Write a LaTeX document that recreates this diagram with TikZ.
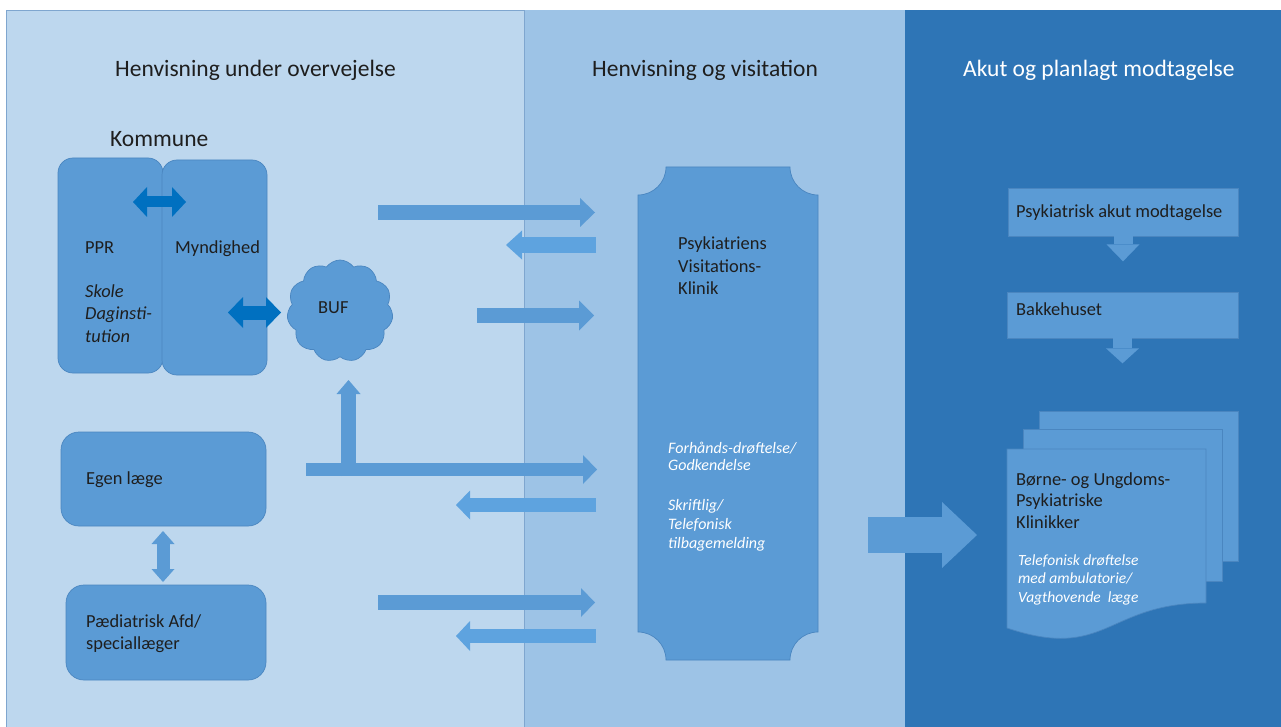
\documentclass[tikz,border=0pt]{standalone}
\usepackage{fontspec}
\setmainfont{Carlito}
\usetikzlibrary{arrows.meta,shapes.symbols}
\definecolor{leftbg}{HTML}{BDD7EE}
\definecolor{midbg}{HTML}{9DC3E6}
\definecolor{rightbg}{HTML}{2E75B6}
\definecolor{boxblue}{HTML}{5B9BD5}
\definecolor{darkarrow}{HTML}{0070C0}
\definecolor{retarrow}{HTML}{5EA3DF}
\definecolor{edgeblue}{HTML}{4A86C0}
\definecolor{sepline}{HTML}{7FA6CF}
\definecolor{txt}{HTML}{1E1E1E}
\tikzset{
  title/.style={anchor=base west, inner sep=0pt, font=\fontsize{23.5}{28}\selectfont, text=txt},
  lbl/.style={anchor=base west, inner sep=0pt, align=left, font=\fontsize{18.4}{22.5}\selectfont, text=txt},
  itl/.style={anchor=base west, inner sep=0pt, align=left, font=\fontsize{16}{19}\selectfont\itshape, text=white},
  rbox/.style={draw=edgeblue, line width=0.7pt, fill=boxblue, rounded corners=15pt, inner sep=0pt},
  sbox/.style={draw=edgeblue, line width=0.7pt, fill=boxblue, inner sep=0pt},
  barrow/.style n args={4}{draw=#4, line width=#1pt, -{Triangle[length=#2pt, width=#3pt, line width=0pt]}},
  dbarrow/.style n args={4}{draw=#4, line width=#1pt, {Triangle[length=#2pt, width=#3pt, line width=0pt]}-{Triangle[length=#2pt, width=#3pt, line width=0pt]}}
}
\begin{document}
\begin{tikzpicture}[x=1pt,y=-1pt]
\useasboundingbox (0,0) rectangle (1281,727);
\fill[white] (0,0) rectangle (1281,727);
% panels
\fill[leftbg] (6,10) rectangle (524,727);
\fill[midbg] (524,10) rectangle (905,727);
\fill[rightbg] (905,10) rectangle (1281,727);
\draw[sepline, line width=0.8pt] (6,727) -- (6,10) -- (524,10) -- (524,727);

% titles
\node[title] (t1) at (115,77) {Henvisning under overvejelse};
\node[title] (t2) at (592,77) {Henvisning og visitation};
\node[title, text=white] (t3) at (963,77) {Akut og planlagt modtagelse};
\node[title] (kom) at (110,147) {Kommune};

% Kommune boxes
\node[rbox, minimum width=105pt, minimum height=215pt] (ppr) at (110.5,265.5) {};
\node[rbox, minimum width=105pt, minimum height=215pt] (mynd) at (214.5,267.5) {};
\node[lbl] (pprt) at (85,253) {PPR};
\node[lbl] (myndt) at (175,253) {Myndighed};
\node[lbl, font=\fontsize{18.4}{22.5}\selectfont\itshape] (skole) at (85,342) {Skole\\Daginsti-\\tution};

% BUF cloud
\node[cloud, cloud puffs=11, cloud puff arc=110, aspect=1, fill=boxblue, draw=edgeblue, line width=0.7pt, minimum width=106pt, minimum height=102pt, inner sep=0pt] (buf) at (340,311) {};
\node[lbl] (buft) at (318,313) {BUF};

% Egen laege / Paediatrisk
\node[rbox, minimum width=205pt, minimum height=94pt, rounded corners=18pt] (egen) at (163.5,479) {};
\node[rbox, minimum width=200pt, minimum height=95pt, rounded corners=18pt] (paed) at (166,632.5) {};
\node[lbl] (egent) at (86,484) {Egen læge};
\node[lbl, font=\fontsize{18.4}{22}\selectfont] (paedt) at (86,649) {Pædiatrisk Afd/\\speciallæger};

% Visitation plaque
\fill[boxblue, draw=edgeblue, line width=0.7pt]
  (666,167) -- (790,167) arc[start angle=180, end angle=90, radius=28]
  -- (818,632) arc[start angle=270, end angle=180, radius=28]
  -- (666,660) arc[start angle=360, end angle=270, radius=28]
  -- (638,195) arc[start angle=90, end angle=0, radius=28] -- cycle;
\node[lbl, font=\fontsize{18.4}{22}\selectfont] (visit) at (678,294) {Psykiatriens\\Visitations-\\Klinik};
\node[itl, font=\fontsize{16}{17.5}\selectfont\itshape] (forh) at (668,470.5) {Forhånds-drøftelse/\\Godkendelse};
\node[itl] (skrift) at (668,548) {Skriftlig/\\Telefonisk\\tilbagemelding};

% Right panel boxes
\node[sbox, minimum width=230pt, minimum height=48pt] (akut) at (1123,212) {};
\node[lbl] (akutt) at (1016,218) {Psykiatrisk akut modtagelse};
\node[sbox, minimum width=231pt, minimum height=46pt] (bakke) at (1122.5,315) {};
\node[lbl] (bakket) at (1016,315) {Bakkehuset};

% multidocument
\filldraw[fill=boxblue, draw=edgeblue, line width=0.7pt] (1039,411) rectangle (1238,561);
\filldraw[fill=boxblue, draw=edgeblue, line width=0.7pt] (1023,429) rectangle (1222,581);
\filldraw[fill=boxblue, draw=edgeblue, line width=0.7pt]
  (1007,449) -- (1206,449) -- (1206,603)
  .. controls (1106.5,603) and (1106.5,661.5) .. (1007,628) -- cycle;
\node[lbl, font=\fontsize{18.4}{21.5}\selectfont] (bup) at (1016,528) {Børne- og Ungdoms-\\Psykiatriske\\Klinikker};
\node[itl, font=\fontsize{15.5}{18.5}\selectfont\itshape] (tlf) at (1018,602) {Telefonisk drøftelse\\med ambulatorie/\\Vagthovende\ \ læge};

% arrow endpoints
\coordinate (a1s) at (378,212.5);  \coordinate (a1e) at (595,212.5);
\coordinate (a2s) at (596,245);    \coordinate (a2e) at (506,245);
\coordinate (a3s) at (477,315.5);  \coordinate (a3e) at (594,315.5);
\coordinate (a4s) at (306,469.5);  \coordinate (a4e) at (597,469.5);
\coordinate (a4j) at (348.5,476);  \coordinate (a4u) at (348.5,380);
\coordinate (a5s) at (596,505);    \coordinate (a5e) at (456,505);
\coordinate (a6s) at (378,602.5);  \coordinate (a6e) at (595,602.5);
\coordinate (a7s) at (596,636);    \coordinate (a7e) at (456,636);
\coordinate (big1) at (868,535);   \coordinate (big2) at (977,535);
\coordinate (k1a) at (133,202);    \coordinate (k1b) at (186,202);
\coordinate (k2a) at (228,312.5);  \coordinate (k2b) at (281,312.5);
\coordinate (e1) at (163,531);     \coordinate (e2) at (163,582);

% arrows
\draw[barrow={15}{15}{29}{boxblue}] (a1s) -- (a1e);
\draw[barrow={16}{16}{29}{retarrow}] (a2s) -- (a2e);
\draw[barrow={15}{15}{30}{boxblue}] (a3s) -- (a3e);
\draw[barrow={13}{14}{29}{boxblue}] (a4s) -- (a4e);
\draw[barrow={15}{14}{24}{boxblue}] (a4j) -- (a4u);
\draw[barrow={14}{14}{29}{retarrow}] (a5s) -- (a5e);
\draw[barrow={15}{14}{29}{boxblue}] (a6s) -- (a6e);
\draw[barrow={14}{14}{30}{retarrow}] (a7s) -- (a7e);
\draw[barrow={36}{35}{66}{boxblue}] (big1) -- (big2);
\draw[barrow={19}{17}{33}{boxblue}] (akut.south) -- ++(0,25);
\draw[barrow={19}{15}{33}{boxblue}] (bakke.south) -- ++(0,25);
\draw[dbarrow={11}{14}{30}{darkarrow}] (k1a) -- (k1b);
\draw[dbarrow={14}{15}{31}{darkarrow}] (k2a) -- (k2b);
\draw[dbarrow={13}{13}{23}{boxblue}] (e1) -- (e2);
\end{tikzpicture}
\end{document}
